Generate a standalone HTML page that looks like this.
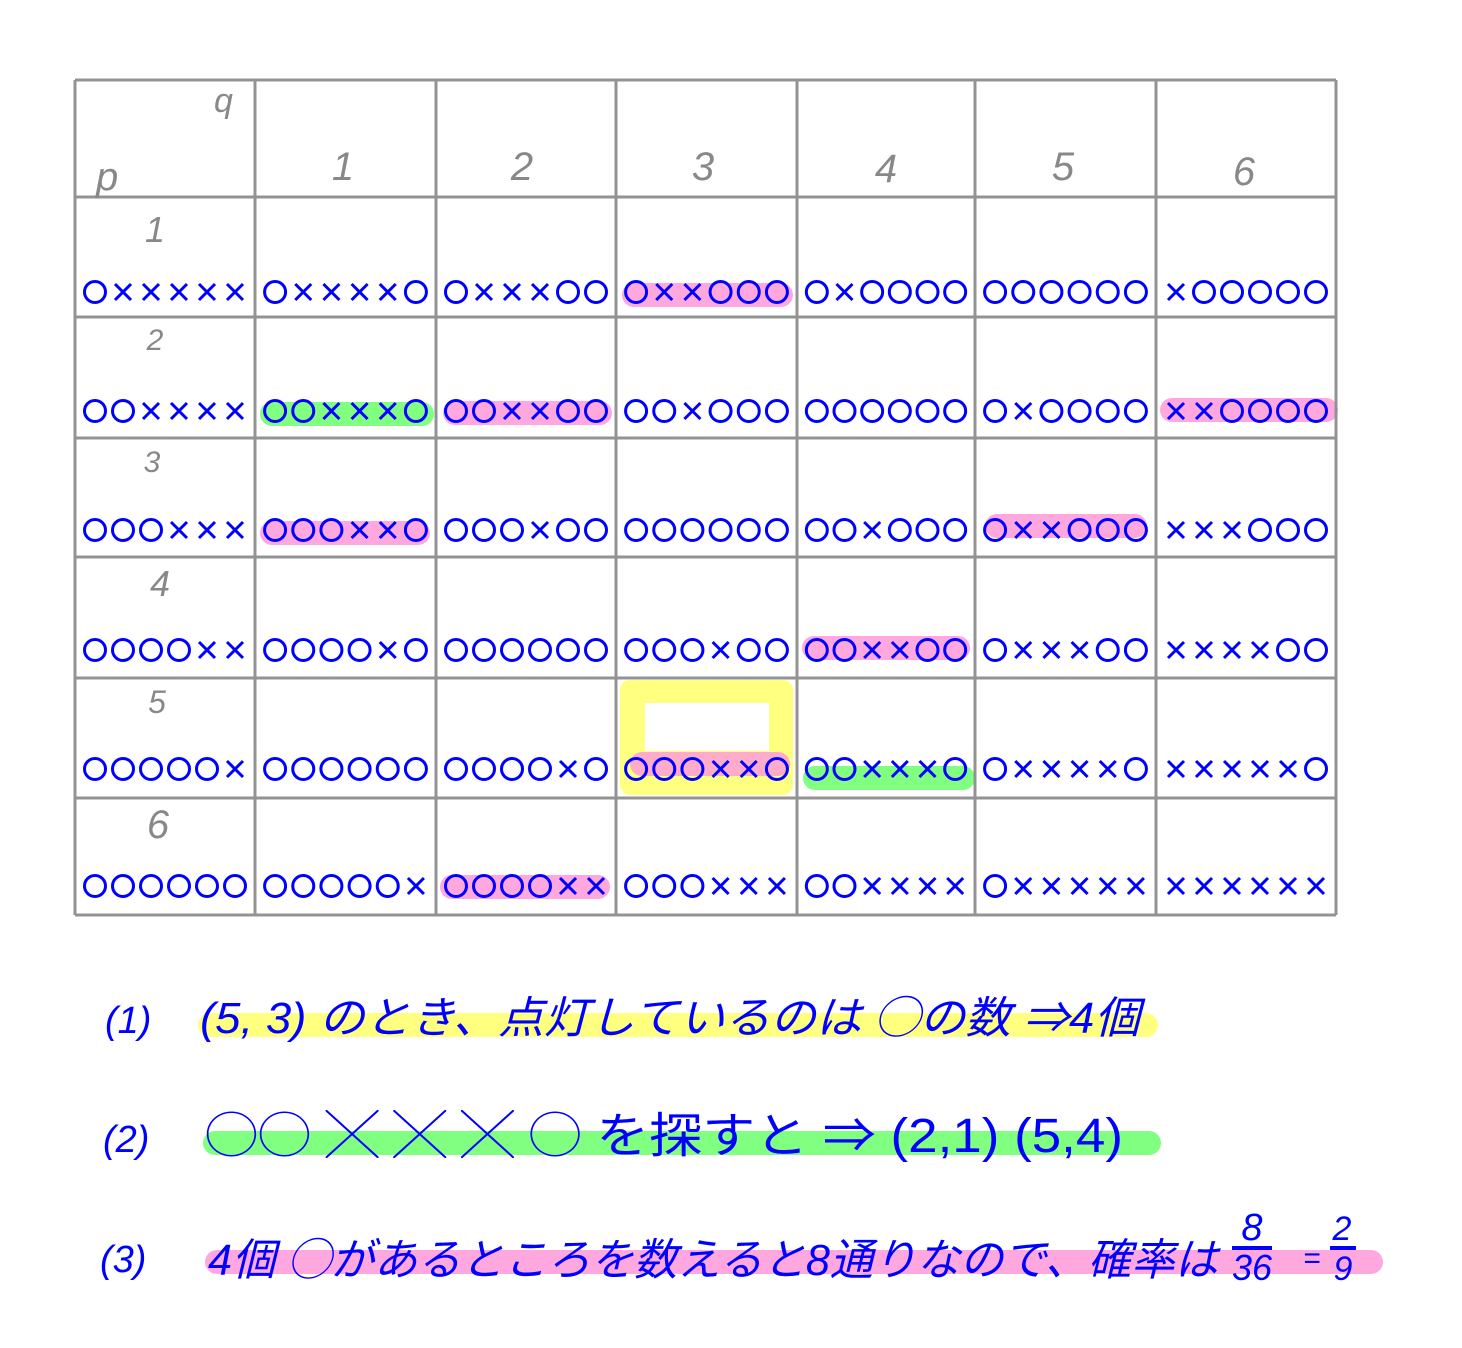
<!DOCTYPE html>
<html><head><meta charset="utf-8"><style>
html,body{margin:0;padding:0;background:#fff;}
svg{display:block}
</style></head><body>
<svg id="s" width="1462" height="1348" viewBox="0 0 1462 1348" xmlns="http://www.w3.org/2000/svg" font-family="Liberation Sans, DejaVu Sans, sans-serif">
<rect width="1462" height="1348" fill="#fff"/>
<g id="hl"></g>
<g id="grid" stroke="#939393" stroke-width="3" fill="none"></g>
<g id="txt" fill="#0000ff"></g>
<g fill="#0000ff" font-family="Liberation Sans, Noto Sans CJK JP, sans-serif" font-size="20" font-style="italic">
<text x="214" y="112" font-size="34" fill="#888">q</text>
<text x="96" y="190" font-size="40" fill="#888">p</text>
</g>
<g fill="#888" font-size="40" font-style="italic" text-anchor="middle">
<text x="343" y="180">1</text><text x="522" y="180">2</text><text x="703" y="180">3</text>
<text x="886" y="182">4</text><text x="1063" y="180">5</text><text x="1244" y="185">6</text>
<text x="155" y="242" font-size="36">1</text><text x="155" y="350" font-size="30">2</text>
<text x="152" y="472" font-size="30">3</text><text x="160" y="596" font-size="36">4</text>
<text x="157" y="713" font-size="32">5</text><text x="158" y="838" font-size="40">6</text>
</g>
<!-- bottom -->
<rect x="198" y="1013" width="960" height="24" rx="12" fill="#ffff80"/>
<rect x="203" y="1131" width="958" height="24" rx="12" fill="#80ff80"/>
<rect x="205" y="1250" width="1178" height="24" rx="12" fill="#ffa8e0"/>
<g fill="#0000ff" font-family="Liberation Sans, Noto Sans CJK JP, sans-serif" font-style="italic">
<text x="105" y="1033" font-size="38">(1)</text>
<text x="200" y="1033" font-size="44" textLength="940" lengthAdjust="spacingAndGlyphs">(5, 3) のとき、点灯しているのは ◯の数 ⇒4個</text>
<text x="103" y="1152" font-size="38">(2)</text>
<text x="205" y="1152" font-size="48" textLength="918" lengthAdjust="spacingAndGlyphs" font-style="normal">◯◯ ╳ ╳ ╳ ◯ を探すと ⇒ (2,1) (5,4)</text>
<text x="100" y="1272" font-size="38">(3)</text>
<text x="208" y="1275" font-size="44" textLength="1010" lengthAdjust="spacingAndGlyphs">4個 ◯があるところを数えると8通りなので、確率は</text>
<text x="1252" y="1240" font-size="38" text-anchor="middle">8</text>
<rect x="1232" y="1246" width="40" height="4"/>
<text x="1252" y="1280" font-size="36" text-anchor="middle">36</text>
<text x="1303" y="1268" font-size="30">=</text>
<text x="1342" y="1240" font-size="34" text-anchor="middle">2</text>
<rect x="1330" y="1246" width="26" height="4"/>
<text x="1343" y="1280" font-size="34" text-anchor="middle">9</text>
</g>
</svg>
<script>
var NS="http://www.w3.org/2000/svg";
function el(p,t,a,txt){var e=document.createElementNS(NS,t);for(var k in a)e.setAttribute(k,a[k]);if(txt)e.textContent=txt;document.getElementById(p).appendChild(e);return e;}
var xs=[75,255,436,616,797,975,1156,1336], ys=[80,197,317,438,557,678,798,915];
xs.forEach(function(x){el("grid","line",{x1:x,y1:80,x2:x,y2:915});});
ys.forEach(function(y){el("grid","line",{x1:75,y1:y,x2:1336,y2:y});});
var data=[
["OXXXXX","OXXXXO","OXXXOO","OXXOOO","OXOOOO","OOOOOO","XOOOOO"],
["OOXXXX","OOXXXO","OOXXOO","OOXOOO","OOOOOO","OXOOOO","XXOOOO"],
["OOOXXX","OOOXXO","OOOXOO","OOOOOO","OOXOOO","OXXOOO","XXXOOO"],
["OOOOXX","OOOOXO","OOOOOO","OOOXOO","OOXXOO","OXXXOO","XXXXOO"],
["OOOOOX","OOOOOO","OOOOXO","OOOXXO","OOXXXO","OXXXXO","XXXXXO"],
["OOOOOO","OOOOOX","OOOOXX","OOOXXX","OOXXXX","OXXXXX","XXXXXX"]];
var base=[302,421,540,660,779,896];
var P="#ffa8e0",G="#80ff80",Y="#ffff80";
function bar(x1,x2,cy,c){el("hl","rect",{x:x1,y:cy-12,width:x2-x1,height:24,rx:12,fill:c});}
el("hl","rect",{x:620,y:680,width:173,height:115,rx:10,fill:Y});
el("hl","rect",{x:645,y:703,width:124,height:48,fill:"#fff"});
bar(622,793,295,P);bar(443,612,413,P);bar(1160,1338,410,P);bar(260,430,533,P);
bar(985,1147,526,P);bar(802,970,648,P);bar(630,790,764,"rgba(255,150,220,0.8)");bar(440,610,887,P);
bar(260,434,414,G);bar(803,975,778,G);
// draw symbols as shapes
for(var r=0;r<6;r++)for(var c=0;c<7;c++){
 var s=data[r][c], x0=xs[c]+6, w=(xs[c+1]-xs[c]-12)/6, cy=base[r]-10;
 for(var i=0;i<6;i++){
  var cx=x0+w*i+w/2;
  if(s[i]=="O") el("txt","circle",{cx:cx,cy:cy,r:10.5,fill:"none",stroke:"#0000ff","stroke-width":3});
  else { var d=8; el("txt","path",{d:"M"+(cx-d)+" "+(cy-d)+"L"+(cx+d)+" "+(cy+d)+"M"+(cx+d)+" "+(cy-d)+"L"+(cx-d)+" "+(cy+d),stroke:"#0000ff","stroke-width":3,fill:"none"}); }
 }
}
</script>
</body></html>
